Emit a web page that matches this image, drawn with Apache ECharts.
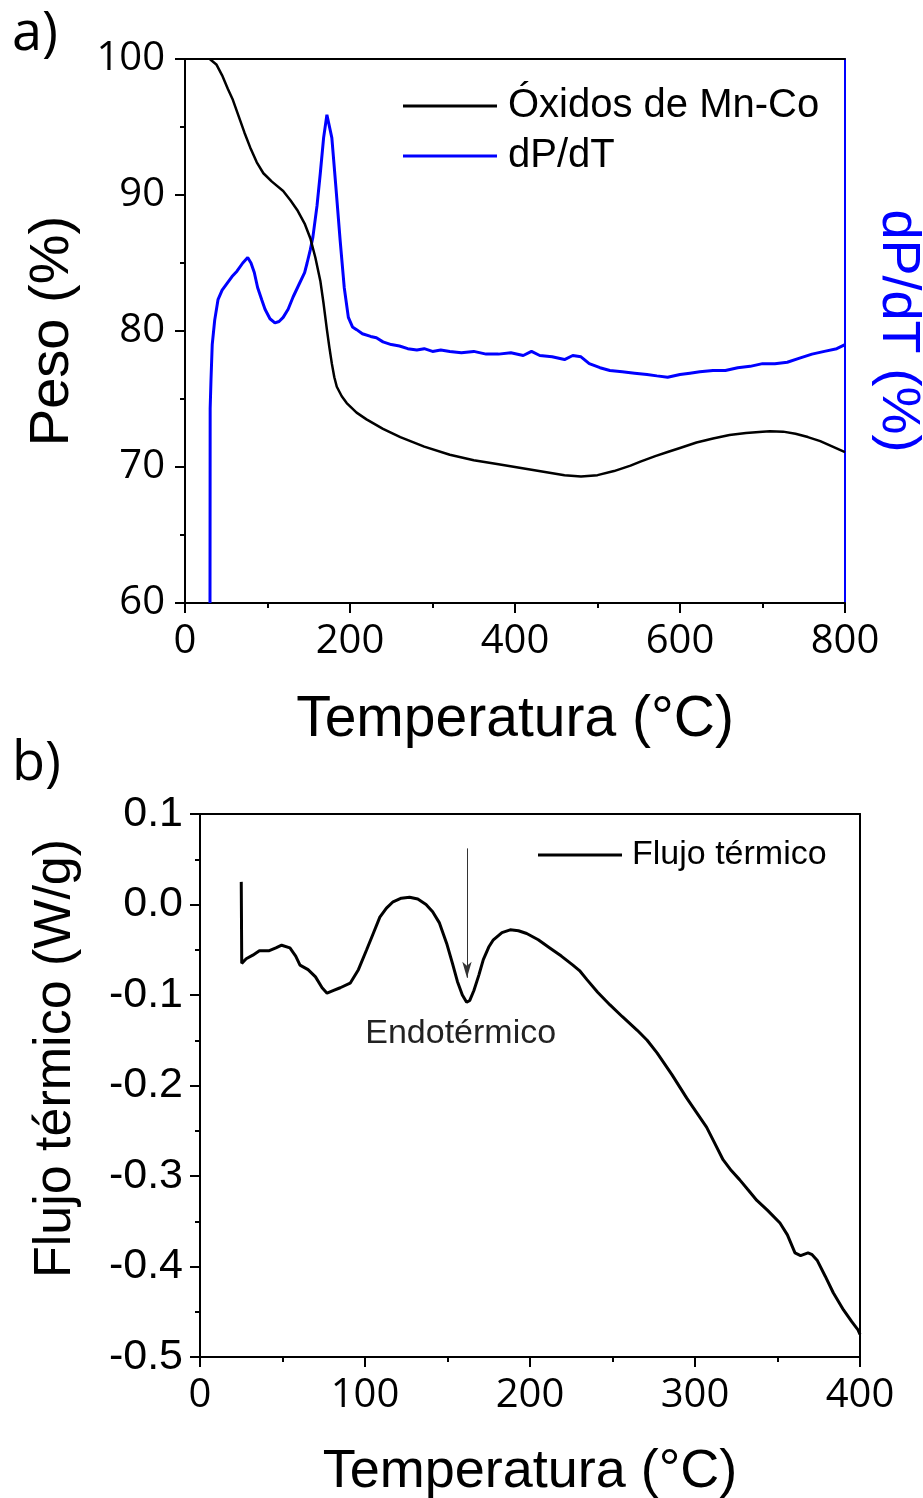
<!DOCTYPE html>
<html>
<head>
<meta charset="utf-8">
<script src="https://cdn.jsdelivr.net/npm/echarts@6/dist/echarts.min.js"></script>
<style>
html,body{margin:0;padding:0;background:#fff;}
#c{width:923px;height:1498px;}
</style>
</head>
<body>
<div id="c"></div>
<script>
// ---- Panel a) data (Temperatura °C, Peso %) ----
const pesoData = [[30,100],[38,99.6],[45,98.8],[52,97.8],[58,97.0],[65,95.8],[72,94.6],[79,93.5],[87,92.4],[95,91.6],[105,91.0],[119,90.3],[128,89.6],[136,88.9],[145,87.9],[152,86.8],[158,85.4],[164,83.7],[168,82.0],[172,80.1],[175,78.8],[178,77.6],[181,76.6],[184,75.9],[190,75.2],[196,74.7],[208,74.0],[220,73.5],[240,72.8],[261,72.2],[290,71.5],[321,70.9],[350,70.5],[380,70.2],[400,70.0],[420,69.8],[440,69.6],[460,69.4],[480,69.3],[500,69.4],[520,69.7],[540,70.1],[552,70.4],[570,70.8],[585,71.1],[600,71.4],[620,71.8],[640,72.1],[660,72.35],[680,72.5],[700,72.6],[709,72.62],[725,72.6],[740,72.45],[755,72.2],[770,71.9],[785,71.5],[800,71.1]];
// dP/dT curve (right axis, drawn on same 60-100 scale)
const dpdtData = [[30.3,60],[30.5,74.3],[31.5,76.4],[33,79.0],[36,80.8],[40,82.3],[45,83.0],[51,83.5],[57,84.0],[63,84.4],[70,85.0],[76,85.4],[80,85.0],[84,84.3],[88,83.2],[93,82.3],[97,81.6],[103,80.9],[109,80.6],[114,80.7],[119,81.0],[125,81.6],[131,82.5],[138,83.4],[145,84.3],[148,85.0],[152,86.0],[155,86.9],[160,89.2],[164,91.6],[168,94.2],[172,95.9],[174,96.0],[178,94.2],[183,90.5],[188,86.7],[193,83.2],[198,81.0],[203,80.3],[208,80.1],[215,79.8],[225,79.6],[232,79.5],[240,79.2],[250,79.0],[260,78.9],[270,78.7],[281,78.6],[290,78.7],[300,78.5],[310,78.6],[321,78.5],[335,78.4],[350,78.5],[365,78.3],[380,78.3],[395,78.4],[410,78.2],[420,78.5],[430,78.2],[445,78.1],[460,77.9],[470,78.2],[480,78.1],[490,77.6],[503,77.3],[515,77.1],[530,77.0],[545,76.9],[560,76.8],[572,76.7],[585,76.6],[600,76.8],[612,76.9],[624,77.0],[640,77.1],[655,77.1],[670,77.3],[685,77.4],[700,77.6],[715,77.6],[730,77.7],[745,78.0],[760,78.3],[775,78.5],[790,78.7],[800,79.0]];
const seriesNamesA = ['Óxidos de Mn-Co', 'dP/dT'];

// ---- Panel b) data (Temperatura °C, Flujo térmico W/g) ----
const flujoData = [[25,0.025],[25.3,-0.065],[28,-0.060],[32,-0.056],[36,-0.051],[42,-0.051],[46,-0.048],[49.5,-0.045],[54.5,-0.048],[58,-0.057],[60.6,-0.067],[65.5,-0.072],[70,-0.080],[74,-0.092],[77,-0.098],[81,-0.095],[85,-0.092],[91,-0.087],[96,-0.072],[101,-0.05],[105,-0.032],[109,-0.014],[113,-0.004],[117,0.003],[122,0.007],[127,0.008],[132,0.006],[137,0.000],[141,-0.008],[145,-0.02],[149.5,-0.043],[153,-0.065],[156,-0.085],[159,-0.100],[161.6,-0.108],[163.5,-0.106],[166,-0.095],[169,-0.078],[171.7,-0.061],[175,-0.047],[177.8,-0.039],[183,-0.031],[188,-0.028],[193,-0.029],[198,-0.032],[205,-0.039],[212,-0.048],[219,-0.057],[226,-0.067],[230,-0.073],[234.5,-0.083],[241,-0.097],[248.5,-0.111],[256,-0.124],[265,-0.139],[271,-0.150],[277,-0.164],[286,-0.188],[295,-0.214],[301,-0.230],[307,-0.246],[312,-0.264],[317,-0.282],[322,-0.294],[327,-0.304],[332,-0.315],[337.5,-0.327],[344,-0.338],[351.5,-0.352],[356,-0.365],[360.6,-0.385],[364,-0.388],[368.5,-0.385],[371,-0.387],[374,-0.393],[379,-0.411],[383.8,-0.429],[390,-0.448],[395,-0.461],[398.8,-0.470],[400,-0.475]];
const seriesNameB = 'Flujo térmico';
const arrowX = 161.8, arrowTop = 0.062, arrowBottom = -0.081;
const annotText = 'Endotérmico';
const annotPos = [158, -0.143];

const axisFont = 'Liberation Sans, Arial, sans-serif';
const tickFont = 'Open Sans, sans-serif';

function bottomAxis(grid, min, max, interval, titleSize, gap, labelFont, labelSize){
  return {
    type:'value', gridIndex:grid, position:'bottom', min:min, max:max, interval:interval,
    name:'Temperatura (°C)', nameLocation:'middle', nameGap:gap,
    nameTextStyle:{fontFamily:axisFont, fontSize:titleSize, color:'#000'},
    axisLine:{show:true, onZero:false, lineStyle:{color:'#000', width:2}},
    axisTick:{show:true, inside:false, length:10, lineStyle:{color:'#000', width:2}},
    minorTick:{show:true, splitNumber:2, length:5, lineStyle:{color:'#000', width:2}},
    axisLabel:{fontFamily:labelFont, fontSize:labelSize, color:'#000', margin:19},
    splitLine:{show:false}
  };
}
function topAxis(grid, min, max){
  return {type:'value', gridIndex:grid, position:'top', min:min, max:max,
    axisLine:{show:true, onZero:false, lineStyle:{color:'#000', width:2}},
    axisTick:{show:false}, axisLabel:{show:false}, splitLine:{show:false}};
}

const chart = echarts.init(document.getElementById('c'), null, {renderer:'canvas'});
chart.setOption({
  animation:false,
  backgroundColor:'#fff',
  grid:[
    {left:185, top:59, width:660, height:544, containLabel:false, outerBoundsMode:'none'},
    {left:200, top:814, width:660, height:543, containLabel:false, outerBoundsMode:'none'}
  ],
  graphic:[
    {type:'text', left:12, top:8, style:{text:'a)', font:'54px Open Sans, sans-serif', fill:'#000'}},
    {type:'text', left:12, top:738, style:{text:'b)', font:'54px Open Sans, sans-serif', fill:'#000'}}
  ],
  legend:[
    {data:seriesNamesA, left:403, top:86, orient:'vertical', padding:0, itemGap:10,
     icon:'rect', itemWidth:94, itemHeight:3,
     textStyle:{fontFamily:axisFont, fontSize:40, color:'#000', lineHeight:40, padding:[0,0,0,6]}},
    {data:[seriesNameB], left:538, top:838, orient:'vertical', padding:0,
     icon:'rect', itemWidth:84, itemHeight:3,
     textStyle:{fontFamily:axisFont, fontSize:34, color:'#000', padding:[0,0,0,5]}}
  ],
  xAxis:[
    bottomAxis(0, 0, 800, 200, 57, 89, tickFont, 40),
    topAxis(0, 0, 800),
    bottomAxis(1, 0, 400, 100, 54, 88, tickFont, 40),
    topAxis(1, 0, 400)
  ],
  yAxis:[
    {type:'value', gridIndex:0, position:'left', min:60, max:100, interval:10,
     name:'Peso (%)', nameLocation:'middle', nameGap:104,
     nameTextStyle:{fontFamily:axisFont, fontSize:56, color:'#000'},
     axisLine:{show:true, onZero:false, lineStyle:{color:'#000', width:2}},
     axisTick:{show:true, inside:false, length:10, lineStyle:{color:'#000', width:2}},
     minorTick:{show:true, splitNumber:2, length:5, lineStyle:{color:'#000', width:2}},
     axisLabel:{fontFamily:tickFont, fontSize:40, color:'#000', margin:20},
     splitLine:{show:false}},
    {type:'value', gridIndex:0, position:'right', min:60, max:100,
     name:'dP/dT (%)', nameLocation:'middle', nameGap:26, nameRotate:-90,
     nameTextStyle:{fontFamily:axisFont, fontSize:54, color:'#0000ff'},
     axisLine:{show:true, onZero:false, lineStyle:{color:'#0000ff', width:2}},
     axisTick:{show:false}, axisLabel:{show:false}, splitLine:{show:false}},
    {type:'value', gridIndex:1, position:'left', min:-0.5, max:0.1, interval:0.1,
     name:'Flujo térmico (W/g)', nameLocation:'middle', nameGap:118,
     nameTextStyle:{fontFamily:axisFont, fontSize:52, color:'#000', padding:[0,0,0,54]},
     axisLine:{show:true, onZero:false, lineStyle:{color:'#000', width:2}},
     axisTick:{show:true, inside:false, length:10, lineStyle:{color:'#000', width:2}},
     minorTick:{show:true, splitNumber:2, length:5, lineStyle:{color:'#000', width:2}},
     axisLabel:{fontFamily:axisFont, fontSize:43, color:'#000', margin:17,
       formatter:function(v){return v.toFixed(1);}},
     splitLine:{show:false}},
    {type:'value', gridIndex:1, position:'right', min:-0.5, max:0.1,
     axisLine:{show:true, onZero:false, lineStyle:{color:'#000', width:2}},
     axisTick:{show:false}, axisLabel:{show:false}, splitLine:{show:false}}
  ],
  series:[
    {name:seriesNamesA[0], type:'line', xAxisIndex:0, yAxisIndex:0, data:pesoData,
     showSymbol:false, symbol:'none', color:'#000', lineStyle:{color:'#000', width:2.5}, z:3},
    {name:seriesNamesA[1], type:'line', xAxisIndex:0, yAxisIndex:1, data:dpdtData,
     showSymbol:false, symbol:'none', color:'#0000ff', lineStyle:{color:'#0000ff', width:3}, z:2},
    {name:seriesNameB, type:'line', xAxisIndex:2, yAxisIndex:2, data:flujoData,
     showSymbol:false, symbol:'none', color:'#000', lineStyle:{color:'#000', width:3},
     markLine:{silent:true, symbol:['none','arrow'], symbolSize:[7,16], animation:false,
       label:{show:false}, lineStyle:{color:'#333', width:1, type:'solid'},
       data:[[{coord:[arrowX, arrowTop]},{coord:[arrowX, arrowBottom]}]]},
     markPoint:{silent:true, symbol:'circle', symbolSize:0, animation:false,
       label:{show:true, position:'inside', formatter:annotText, fontFamily:axisFont, fontSize:34, color:'#222'},
       data:[{coord:annotPos}]}}
  ]
});
</script>
</body>
</html>
